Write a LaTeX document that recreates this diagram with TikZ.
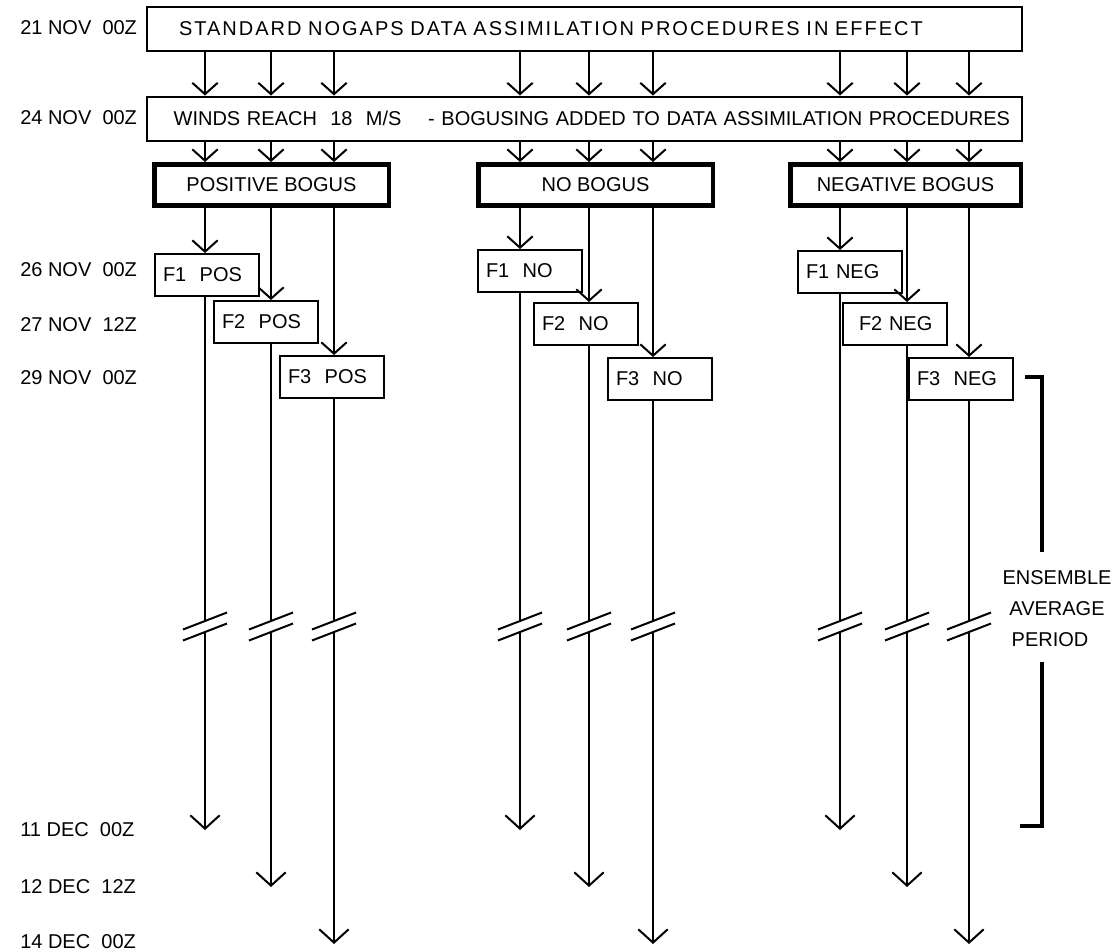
\documentclass[tikz,border=0pt]{standalone}
\usepackage{fontspec}
\setmainfont{Liberation Sans}
\usetikzlibrary{arrows.meta}
\begin{document}
\begin{tikzpicture}[x=0.75pt,y=-0.75pt,
  every node/.style={font=\fontsize{15pt}{18pt}\selectfont},
  ln/.style={line width=1.5pt},
  arr/.style={ln,-{Straight Barb[length=8.5pt,width=19pt,line width=1.5pt]}},
  arrE/.style={ln,-{Straight Barb[length=10pt,width=22pt,line width=1.5pt]}},
  bigbox/.style={draw,line width=1.5pt,minimum width=656.25pt,minimum height=33pt,inner xsep=2pt,inner ysep=0pt,text width=652.25pt,align=left},
  grp/.style={draw,line width=3.5pt,minimum height=31pt,inner sep=0pt},
  fbox/.style={draw,line width=1.5pt,anchor=north west,minimum height=31.5pt,text width=66pt,inner xsep=6pt,inner ysep=0pt,align=left},
  datelbl/.style={anchor=west,inner sep=0pt},
  brack/.style={line width=3pt},
  enslbl/.style={inner sep=0pt}]
\useasboundingbox (0,0) rectangle (1115,951);

% date labels
\node[datelbl] (d1) at (20,28) {21 NOV\ \ 00Z};
\node[datelbl] (d2) at (20,118) {24 NOV\ \ 00Z};
\node[datelbl] (d3) at (20,270) {26 NOV\ \ 00Z};
\node[datelbl] (d4) at (20,325) {27 NOV\ \ 12Z};
\node[datelbl] (d5) at (20,378) {29 NOV\ \ 00Z};
\node[datelbl] (d6) at (20,830) {11 DEC\ \ 00Z};
\node[datelbl] (d7) at (20,887) {12 DEC\ \ 12Z};
\node[datelbl] (d8) at (20,942) {14 DEC\ \ 00Z};

% top boxes
\node[bigbox] (B1) at (584.5,29)
  {\mbox{\hspace*{22pt}\addfontfeature{LetterSpace=10}STANDARD NOGAPS DATA ASSIMILATION PROCEDURES IN EFFECT}};
\node[bigbox] (B2) at (584.5,118.5)
  {\mbox{\hspace*{18pt}WINDS REACH\ \ 18\ \ M/S\ \ \ \ - BOGUSING ADDED TO DATA ASSIMILATION PROCEDURES}};

% group boxes
\node[grp,minimum width=176pt] (PB) at (271.5,185) {POSITIVE BOGUS};
\node[grp,minimum width=176pt] (NB) at (595.5,185) {NO BOGUS};
\node[grp,minimum width=173pt] (GB) at (905.5,185) {NEGATIVE BOGUS};

% forecast boxes
\node[fbox] (F1P) at (154,253) {F1\ \ POS};
\node[fbox] (F2P) at (213,300) {F2\ \ POS};
\node[fbox] (F3P) at (279,355) {F3\ \ POS};
\node[fbox] (F1N) at (477,249) {F1\ \ NO};
\node[fbox] (F2N) at (533,302) {F2\ \ NO};
\node[fbox] (F3N) at (607,357) {F3\ \ NO};
\node[fbox] (F1G) at (797,250) {F1 NEG};
\node[fbox] (F2G) at (842,302) {\hspace*{6pt}F2 NEG};
\node[fbox] (F3G) at (908,357) {F3\ \ NEG};

% columns
\foreach \n/\x/\ey in {1/205/830,2/271/887,3/334/944,4/520/830,5/589/887,6/653/944,7/840/830,8/907/887,9/969/944}{
  \coordinate (c\n) at (\x,0);
  \coordinate (bt\n) at (\x,621);
  \coordinate (bb\n) at (\x,632);
  \coordinate (e\n) at (\x,\ey);
}

% arrows top -> second box, second box -> groups
\foreach \n/\g in {1/PB,2/PB,3/PB,4/NB,5/NB,6/NB,7/GB,8/GB,9/GB}{
  \draw[arr] (B1.south -| c\n) -- (B2.north -| c\n);
  \draw[arr] (B2.south -| c\n) -- (\g.north -| c\n);
}

% groups -> forecasts -> ends
\foreach \n/\g/\f in {1/PB/F1P,2/PB/F2P,3/PB/F3P,4/NB/F1N,5/NB/F2N,6/NB/F3N,7/GB/F1G,8/GB/F2G,9/GB/F3G}{
  \draw[arr] (\g.south -| c\n) -- (\f.north -| c\n);
  \draw[ln] (\f.south -| c\n) -- (bt\n);
  \draw[arrE] (bb\n) -- (e\n);
  \draw[ln] ([shift={(-22,8.5)}]bt\n) -- ([shift={(22,-8.5)}]bt\n);
  \draw[ln] ([shift={(-22,8.5)}]bb\n) -- ([shift={(22,-8.5)}]bb\n);
}

% ensemble bracket
\coordinate (k1) at (1025,377);
\coordinate (k2) at (1042,377);
\coordinate (k3) at (1042,552);
\coordinate (k4) at (1042,662);
\coordinate (k5) at (1042,826);
\coordinate (k6) at (1020,826);
\draw[brack] (k1) -- (k2) -- (k3);
\draw[brack] (k4) -- (k5) -- (k6);
\node[enslbl] (t1) at (1057,578) {ENSEMBLE};
\node[enslbl] (t2) at (1057,609) {AVERAGE};
\node[enslbl] (t3) at (1050,640) {PERIOD};
\end{tikzpicture}
\end{document}
